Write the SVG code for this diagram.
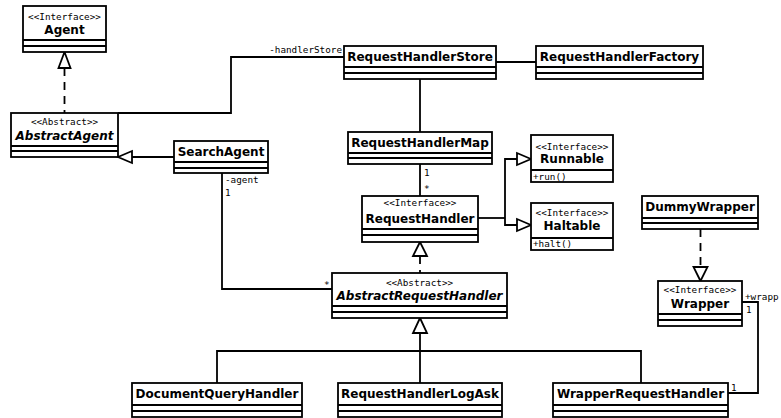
<svg xmlns="http://www.w3.org/2000/svg" width="781" height="418" viewBox="0 0 781 418">
<style>
.box{fill:#fff;stroke:#000;stroke-width:1.8}
.sep{stroke:#000;stroke-width:1.8}
.ln{fill:none;stroke:#000;stroke-width:1.8}
.dash{fill:none;stroke:#000;stroke-width:1.8;stroke-dasharray:8,6}
.tri{fill:#fff;stroke:#000;stroke-width:1.8}
.nm{font-family:"DejaVu Sans",sans-serif;font-weight:bold;font-size:12px;text-anchor:middle}
.ab{font-style:italic}
.st{font-family:"DejaVu Sans Mono",monospace;font-size:9.3px;text-anchor:middle}
.lb{font-family:"DejaVu Sans Mono",monospace;font-size:9.3px}
</style>
<rect width="781" height="418" fill="#fff"/>
<g id="connectors">
  <line class="dash" x1="64.5" y1="68" x2="64.5" y2="113"/>
  <polygon class="tri" points="64.5,52 58.5,68 70.5,68"/>
  <polyline class="ln" points="118,113 231,113 231,57 344,57"/>
  <text class="lb" x="342" y="53" text-anchor="end">-handlerStore</text>
  <line class="ln" x1="132" y1="157" x2="174" y2="157"/>
  <polygon class="tri" points="118,157 132,151 132,163"/>
  <line class="ln" x1="496" y1="62" x2="536" y2="62"/>
  <line class="ln" x1="420" y1="79" x2="420" y2="132"/>
  <line class="ln" x1="420" y1="164" x2="420" y2="196"/>
  <text class="lb" x="424" y="176">1</text>
  <text class="lb" x="424" y="192">*</text>
  <polyline class="ln" points="478,218 505,218"/>
  <polyline class="ln" points="517,159 505,159 505,225 517,225"/>
  <polygon class="tri" points="531,159 517,153 517,165"/>
  <polygon class="tri" points="531,225 517,219 517,231"/>
  <line class="dash" x1="420" y1="256" x2="420" y2="273"/>
  <polygon class="tri" points="420,242 413,256 427,256"/>
  <polyline class="ln" points="222,173 222,289 332,289"/>
  <text class="lb" x="225" y="183">-agent</text>
  <text class="lb" x="225" y="196">1</text>
  <text class="lb" x="324" y="288">*</text>
  <polygon class="tri" points="420,318 413,333 427,333"/>
  <line class="ln" x1="420" y1="333" x2="420" y2="383"/>
  <polyline class="ln" points="217,383 217,351 641,351 641,383"/>
  <line class="dash" x1="700.5" y1="229" x2="700.5" y2="267"/>
  <polygon class="tri" points="700.5,281 693.5,267 707.5,267"/>
  <polyline class="ln" points="742,302 758,302 758,393 728,393"/>
  <text class="lb" x="745" y="300">+wrapp</text>
  <text class="lb" x="746" y="313">1</text>
  <text class="lb" x="731" y="391">1</text>
</g>
<g id="Agent">
  <rect class="box" x="23" y="6" width="83" height="46"/>
  <line class="sep" x1="23" y1="40" x2="106" y2="40"/>
  <line class="sep" x1="23" y1="46" x2="106" y2="46"/>
  <text class="st" x="64.5" y="19.5">&lt;&lt;Interface&gt;&gt;</text>
  <text class="nm" x="64.5" y="34">Agent</text>
</g>
<g id="AbstractAgent">
  <rect class="box" x="11" y="113" width="107" height="44"/>
  <line class="sep" x1="11" y1="146" x2="118" y2="146"/>
  <line class="sep" x1="11" y1="151" x2="118" y2="151"/>
  <text class="st" x="64.5" y="125">&lt;&lt;Abstract&gt;&gt;</text>
  <text class="nm ab" x="64.5" y="140">AbstractAgent</text>
</g>
<g id="SearchAgent">
  <rect class="box" x="174" y="141" width="94" height="32"/>
  <line class="sep" x1="174" y1="162" x2="268" y2="162"/>
  <line class="sep" x1="174" y1="168" x2="268" y2="168"/>
  <text class="nm" x="221" y="155.5">SearchAgent</text>
</g>
<g id="RequestHandlerStore">
  <rect class="box" x="344" y="46" width="152" height="33"/>
  <line class="sep" x1="344" y1="67" x2="496" y2="67"/>
  <line class="sep" x1="344" y1="73" x2="496" y2="73"/>
  <text class="nm" x="420" y="61">RequestHandlerStore</text>
</g>
<g id="RequestHandlerFactory">
  <rect class="box" x="536" y="46" width="167" height="33"/>
  <line class="sep" x1="536" y1="67" x2="703" y2="67"/>
  <line class="sep" x1="536" y1="73" x2="703" y2="73"/>
  <text class="nm" x="619.5" y="61">RequestHandlerFactory</text>
</g>
<g id="RequestHandlerMap">
  <rect class="box" x="348" y="132" width="144" height="32"/>
  <line class="sep" x1="348" y1="153" x2="492" y2="153"/>
  <line class="sep" x1="348" y1="158" x2="492" y2="158"/>
  <text class="nm" x="420" y="147">RequestHandlerMap</text>
</g>
<g id="RequestHandler">
  <rect class="box" x="362" y="196" width="116" height="46"/>
  <line class="sep" x1="362" y1="229" x2="478" y2="229"/>
  <line class="sep" x1="362" y1="235" x2="478" y2="235"/>
  <text class="st" x="420" y="206">&lt;&lt;Interface&gt;&gt;</text>
  <text class="nm" x="420" y="223">RequestHandler</text>
</g>
<g id="Runnable">
  <rect class="box" x="531" y="135" width="82" height="47"/>
  <line class="sep" x1="531" y1="170" x2="613" y2="170"/>
  <text class="st" x="572" y="150">&lt;&lt;Interface&gt;&gt;</text>
  <text class="nm" x="572" y="163">Runnable</text>
  <text class="lb" x="533" y="180">+run()</text>
</g>
<g id="Haltable">
  <rect class="box" x="531" y="203" width="82" height="47"/>
  <line class="sep" x1="531" y1="238" x2="613" y2="238"/>
  <text class="st" x="572" y="216">&lt;&lt;Interface&gt;&gt;</text>
  <text class="nm" x="572" y="230">Haltable</text>
  <text class="lb" x="533" y="247">+halt()</text>
</g>
<g id="AbstractRequestHandler">
  <rect class="box" x="332" y="273" width="175" height="45"/>
  <line class="sep" x1="332" y1="306" x2="507" y2="306"/>
  <line class="sep" x1="332" y1="312" x2="507" y2="312"/>
  <text class="st" x="419.5" y="286">&lt;&lt;Abstract&gt;&gt;</text>
  <text class="nm ab" x="419.5" y="300">AbstractRequestHandler</text>
</g>
<g id="DummyWrapper">
  <rect class="box" x="642" y="196" width="116" height="33"/>
  <line class="sep" x1="642" y1="218" x2="758" y2="218"/>
  <line class="sep" x1="642" y1="223" x2="758" y2="223"/>
  <text class="nm" x="700" y="211">DummyWrapper</text>
</g>
<g id="Wrapper">
  <rect class="box" x="658" y="281" width="84" height="45"/>
  <line class="sep" x1="658" y1="314" x2="742" y2="314"/>
  <line class="sep" x1="658" y1="320" x2="742" y2="320"/>
  <text class="st" x="700" y="293">&lt;&lt;Interface&gt;&gt;</text>
  <text class="nm" x="700" y="307.5">Wrapper</text>
</g>
<g id="DocumentQueryHandler">
  <rect class="box" x="132" y="383" width="170" height="34"/>
  <line class="sep" x1="132" y1="405" x2="302" y2="405"/>
  <line class="sep" x1="132" y1="411" x2="302" y2="411"/>
  <text class="nm" x="217" y="398">DocumentQueryHandler</text>
</g>
<g id="RequestHandlerLogAsk">
  <rect class="box" x="338" y="383" width="164" height="34"/>
  <line class="sep" x1="338" y1="405" x2="502" y2="405"/>
  <line class="sep" x1="338" y1="411" x2="502" y2="411"/>
  <text class="nm" x="420" y="398">RequestHandlerLogAsk</text>
</g>
<g id="WrapperRequestHandler">
  <rect class="box" x="553" y="383" width="175" height="34"/>
  <line class="sep" x1="553" y1="405" x2="728" y2="405"/>
  <line class="sep" x1="553" y1="411" x2="728" y2="411"/>
  <text class="nm" x="640.5" y="398">WrapperRequestHandler</text>
</g>
</svg>
